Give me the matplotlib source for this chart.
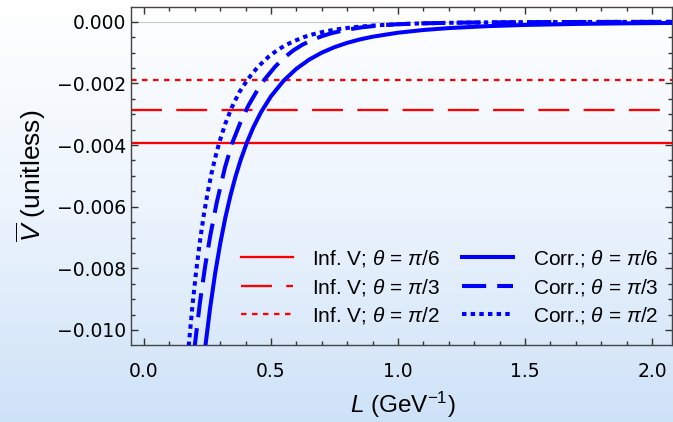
import numpy as np
import matplotlib
matplotlib.use("Agg")
import matplotlib.pyplot as plt
from matplotlib.ticker import MultipleLocator, FuncFormatter
from matplotlib.lines import Line2D

plt.rcParams['font.family'] = ['Liberation Sans', 'DejaVu Sans']
plt.rcParams['mathtext.fontset'] = 'custom'
plt.rcParams['mathtext.rm'] = 'Liberation Sans'
plt.rcParams['mathtext.it'] = 'Liberation Sans:italic'
plt.rcParams['mathtext.bf'] = 'Liberation Sans:bold'

# Infinite-volume potential for each angle
theta_labels = ["6", "3", "2"]
inf_v = [-0.00392, -0.00286, -0.00189]

# Finite-size corrected potential, sampled along L (GeV^-1)
L_pi6 = [0.236, 0.240, 0.260, 0.280, 0.300, 0.320, 0.340, 0.360, 0.380, 0.405,
         0.430, 0.460, 0.500, 0.550, 0.600, 0.650, 0.700, 0.750, 0.800, 0.850,
         0.900, 1.000, 1.100, 1.200, 1.350, 1.500, 1.700, 1.900, 2.080]
V_pi6 = [-0.010925, -0.010632, -0.009300, -0.008167, -0.007199, -0.006365,
         -0.005651, -0.005031, -0.004497, -0.003920, -0.003434, -0.002944,
         -0.002418, -0.001911, -0.001527, -0.001231, -0.001003, -0.000825,
         -0.000686, -0.000575, -0.000487, -0.000357, -0.000269, -0.000207,
         -0.000145, -0.000105, -0.0000724, -0.0000522, -0.0000406]

L_pi3 = [0.197, 0.201, 0.220, 0.240, 0.260, 0.286, 0.319, 0.348, 0.380, 0.411,
         0.445, 0.473, 0.516, 0.550, 0.588, 0.625, 0.660, 0.700, 0.739, 0.798,
         0.860, 0.930, 1.000, 1.100, 1.250, 1.500, 1.800, 2.080]
V_pi3 = [-0.01072, -0.01043, -0.00912, -0.00797, -0.00698, -0.00588, -0.00472,
         -0.00392, -0.00326, -0.00272, -0.00224, -0.00189, -0.00146, -0.00118,
         -0.00093, -0.00074, -0.00060, -0.00047, -0.00037, -0.00026, -0.00018,
         -0.00012, -0.000082, -0.000052, -0.000030, -0.000015, -0.000008,
         -0.000005]

L_pi2 = [0.174, 0.177, 0.190, 0.205, 0.220, 0.235, 0.250, 0.265, 0.280, 0.296,
         0.320, 0.345, 0.375, 0.411, 0.450, 0.490, 0.522, 0.555, 0.588, 0.630,
         0.667, 0.710, 0.759, 0.820, 0.900, 1.000, 1.100, 1.250, 1.500, 1.800,
         2.080]
V_pi2 = [-0.01080, -0.01043, -0.00927, -0.00812, -0.00713, -0.00629, -0.00557,
         -0.00495, -0.00442, -0.00393, -0.00331, -0.00279, -0.00229, -0.00184,
         -0.00145, -0.00114, -0.00094, -0.00077, -0.00064, -0.000497, -0.000404,
         -0.000320, -0.000248, -0.000183, -0.000125, -0.000080, -0.000052,
         -0.0000295, -0.0000133, -0.0000063, -0.0000036]

fig = plt.figure(figsize=(6.73, 4.22), dpi=100)

# soft vertical background gradient
bg = fig.add_axes([0, 0, 1, 1], zorder=-10)
top = np.array([255, 255, 255]) / 255.0
mid = np.array([236, 244, 253]) / 255.0
bot = np.array([206, 226, 247]) / 255.0
t = np.linspace(0, 1, 256)[:, None]
grad = np.where(t < 0.5, top + (mid - top) * (t / 0.5), mid + (bot - mid) * ((t - 0.5) / 0.5))
bg.imshow(grad[:, None, :].repeat(2, axis=1), aspect='auto', extent=[0, 1, 0, 1], origin='upper')
bg.set_axis_off()

ax = fig.add_axes([131 / 673, 1 - 345 / 422, 541 / 673, 338 / 422])
ax.patch.set_alpha(0)

ax.axhline(0.0, color='#c8c8c8', lw=0.8, zorder=1)

red = '#ff0000'
blue = '#0000ff'
red_lw = 1.65
blue_lw = 2.9
red_styles = ['-', (0, (13.5, 6.25)), (0, (2.4, 2.4))]
blue_styles = ['-', (0, (6.0, 2.75)), (0, (1.1, 1.05))]

for v, ls in zip(inf_v, red_styles):
    ax.axhline(v, color=red, lw=red_lw, ls=ls, zorder=2)

for Ls, Vs, ls in zip([L_pi6, L_pi3, L_pi2], [V_pi6, V_pi3, V_pi2], blue_styles):
    ax.plot(Ls, Vs, color=blue, lw=blue_lw, ls=ls, zorder=3, solid_capstyle='butt',
            dash_capstyle='butt', solid_joinstyle='round')

ax.set_xlim(-0.0512, 2.0787)
ax.set_ylim(-0.010487, 0.000477)

ax.xaxis.set_major_locator(MultipleLocator(0.5))
ax.xaxis.set_minor_locator(MultipleLocator(0.1))
ax.yaxis.set_major_locator(MultipleLocator(0.002))
ax.yaxis.set_minor_locator(MultipleLocator(0.0005))

def yfmt(v, pos):
    s = f"{abs(v):.3f}"
    return ("\u2212" + s) if v < -1e-12 else s

ax.yaxis.set_major_formatter(FuncFormatter(yfmt))
ax.xaxis.set_major_formatter(FuncFormatter(lambda v, p: f"{v:.1f}"))

ax.tick_params(which='both', direction='in', top=True, right=True, colors='#333333',
               labelcolor='black', width=1.0)
ax.tick_params(which='major', length=5)
ax.tick_params(which='minor', length=3)
ax.tick_params(axis='x', pad=12.5)
ax.tick_params(axis='y', pad=3.6)
for lab in ax.get_xticklabels() + ax.get_yticklabels():
    lab.set_fontfamily('DejaVu Sans')
    lab.set_fontsize(13.5)
for sp in ax.spines.values():
    sp.set_color('#444444')
    sp.set_linewidth(1.0)

ax.set_xlabel(r"$L$ (GeV$^{-1}$)", fontsize=17.5)
ax.set_ylabel(r"$\overline{V}$ (unitless)", fontsize=19)
ax.xaxis.label.set_va('center')
ax.yaxis.label.set_va('center')
ax.xaxis.set_label_coords(272 / 541, -60 / 338)
ax.yaxis.set_label_coords(-100 / 541, 0.5)

handles = []
labels = []
for ls, den in zip(red_styles, theta_labels):
    handles.append(Line2D([], [], color=red, lw=red_lw, ls=ls))
    labels.append(r"Inf. V; $\theta$ = $\pi$/" + den)
for ls, den in zip(blue_styles, theta_labels):
    handles.append(Line2D([], [], color=blue, lw=blue_lw, ls=ls))
    labels.append(r"Corr.; $\theta$ = $\pi$/" + den)

leg = ax.legend(handles, labels, ncol=2, loc='center', frameon=False, fontsize=15,
                handlelength=2.45, handletextpad=0.95, columnspacing=1.05,
                labelspacing=0.36, borderpad=0.0,
                bbox_to_anchor=(319 / 541, 58 / 338))

fig.savefig("out.png", dpi=100)
